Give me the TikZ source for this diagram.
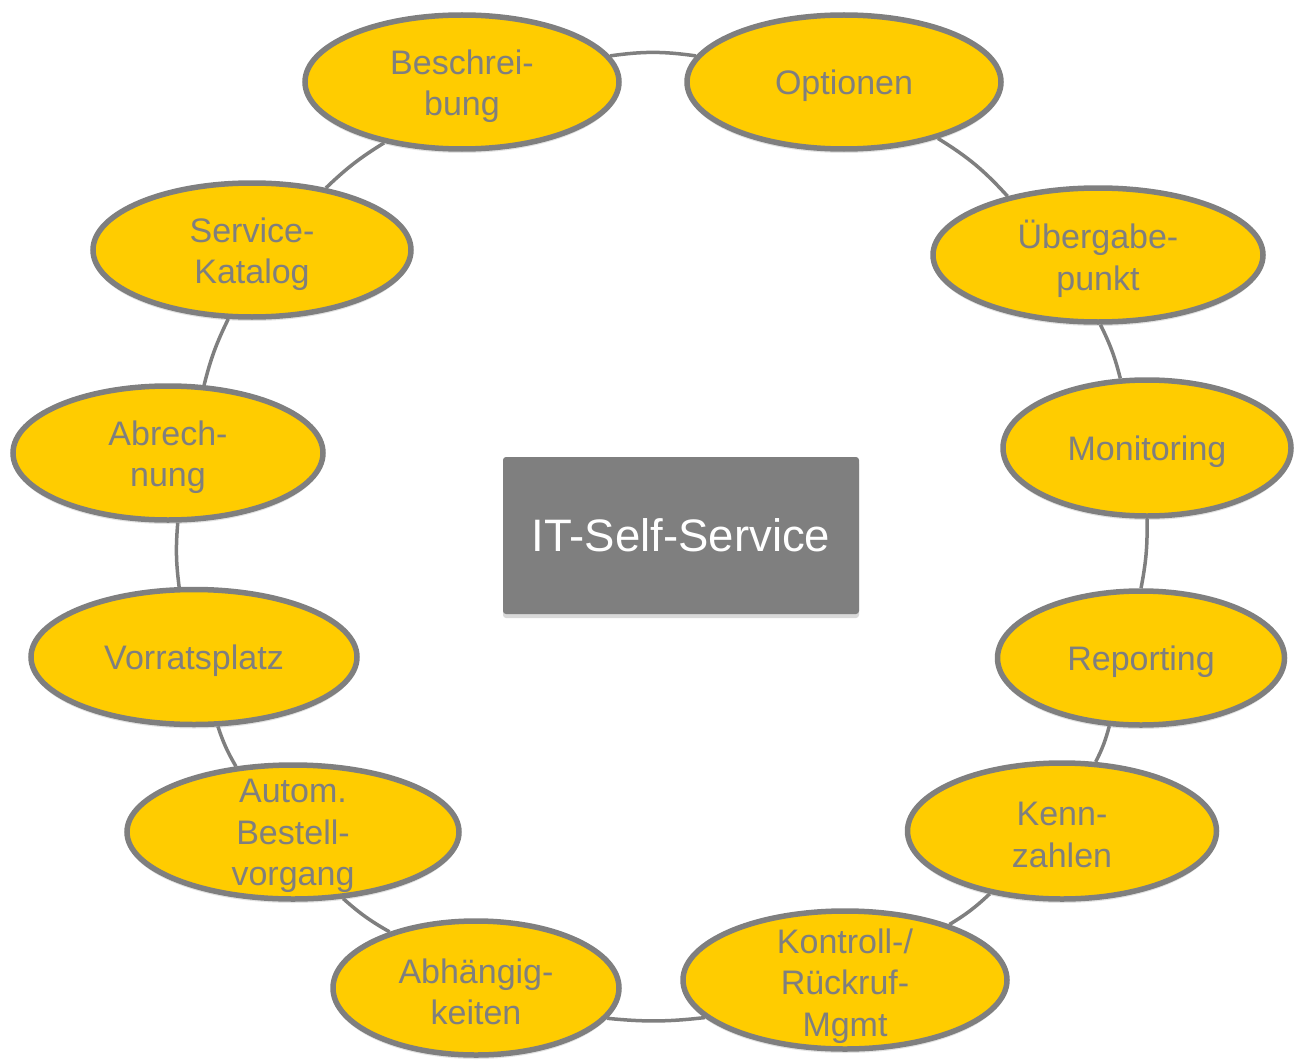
\documentclass[tikz,border=0pt]{standalone}
\usepackage{fontspec}
\setmainfont{Liberation Sans}
\usetikzlibrary{shapes.geometric,shadows,backgrounds}
\definecolor{ringfill}{HTML}{FFCC00}
\definecolor{ringgray}{HTML}{7F7F7F}
\begin{document}
\begin{tikzpicture}[x=1pt,y=-1pt,
  ell/.style={ellipse, draw=ringgray, fill=ringfill, line width=5.5pt, inner sep=0pt,
    drop shadow={opacity=0.22, shadow xshift=0pt, shadow yshift=-4pt}},
  lbl/.style={text=ringgray, align=center, inner sep=0pt, yshift=-4pt, font=\fontsize{34}{41.5}\selectfont},
  conn/.style={draw=ringgray, line width=3.5pt},
  centerbox/.style={rectangle, fill=ringgray, rounded corners=3pt, minimum width=356pt, minimum height=157pt,
    text=white, font=\fontsize{45.5}{54}\selectfont,
    drop shadow={opacity=0.3, shadow xshift=0pt, shadow yshift=-4pt}}]
\useasboundingbox (0,0) rectangle (1303,1062);

\node[ell, minimum width=314pt, minimum height=134pt] (B) at (462,82) {};
\node[ell, minimum width=314pt, minimum height=134pt] (O) at (844,82) {};
\node[ell, minimum width=330pt, minimum height=134pt] (U) at (1098,255) {};
\node[ell, minimum width=288pt, minimum height=136pt] (M) at (1147,448) {};
\node[ell, minimum width=287pt, minimum height=134pt] (R) at (1141,658) {};
\node[ell, minimum width=309pt, minimum height=136pt] (K) at (1062,831) {};
\node[ell, minimum width=324pt, minimum height=138pt] (KR) at (845,980) {};
\node[ell, minimum width=286pt, minimum height=134pt] (A) at (476,988) {};
\node[ell, minimum width=332pt, minimum height=134pt] (AB) at (293,832) {};
\node[ell, minimum width=326pt, minimum height=135pt] (V) at (194,657) {};
\node[ell, minimum width=310pt, minimum height=134pt] (AR) at (168,453) {};
\node[ell, minimum width=318pt, minimum height=134pt] (S) at (252,250) {};

\node[lbl] (Bt) at (B) {Beschrei-\\bung};
\node[lbl] (Ot) at (O) {Optionen};
\node[lbl] (Ut) at (U) {Übergabe-\\punkt};
\node[lbl] (Mt) at (M) {Monitoring};
\node[lbl] (Rt) at (R) {Reporting};
\node[lbl] (Kt) at (K) {Kenn-\\zahlen};
\node[lbl] (KRt) at (845,982) {Kontroll-/\\Rückruf-\\Mgmt};
\node[lbl] (At) at (A) {Abhängig-\\keiten};
\node[lbl] (ABt) at (AB) {Autom.\\Bestell-\\vorgang};
\node[lbl] (Vt) at (V) {Vorratsplatz};
\node[lbl] (ARt) at (AR) {Abrech-\\nung};
\node[lbl] (St) at (S) {Service-\\Katalog};

\node[centerbox] (C) at (681,535.5) {IT-Self-Service};

\begin{scope}[on background layer]
\draw[conn] (B.10) to[bend left=8] (O.170);
\draw[conn] (O.-31) to[bend left=8] (U.147);
\draw[conn] (U.-88) to[bend left=6] (M.111);
\draw[conn] (M.-90) to[bend left=6] (R.90);
\draw[conn] (R.-115) to[bend left=6] (K.64);
\draw[conn] (K.-139) to[bend left=6] (KR.28);
\draw[conn] (KR.-165) to[bend left=6] (A.-13);
\draw[conn] (A.147) to[bend left=6] (AB.-53);
\draw[conn] (AB.131) to[bend left=6] (V.-71);
\draw[conn] (V.102) to[bend left=6] (AR.-82);
\draw[conn] (AR.62) to[bend left=6] (S.-109);
\draw[conn] (S.40) to[bend left=6] (B.-142);
\end{scope}
\end{tikzpicture}
\end{document}
